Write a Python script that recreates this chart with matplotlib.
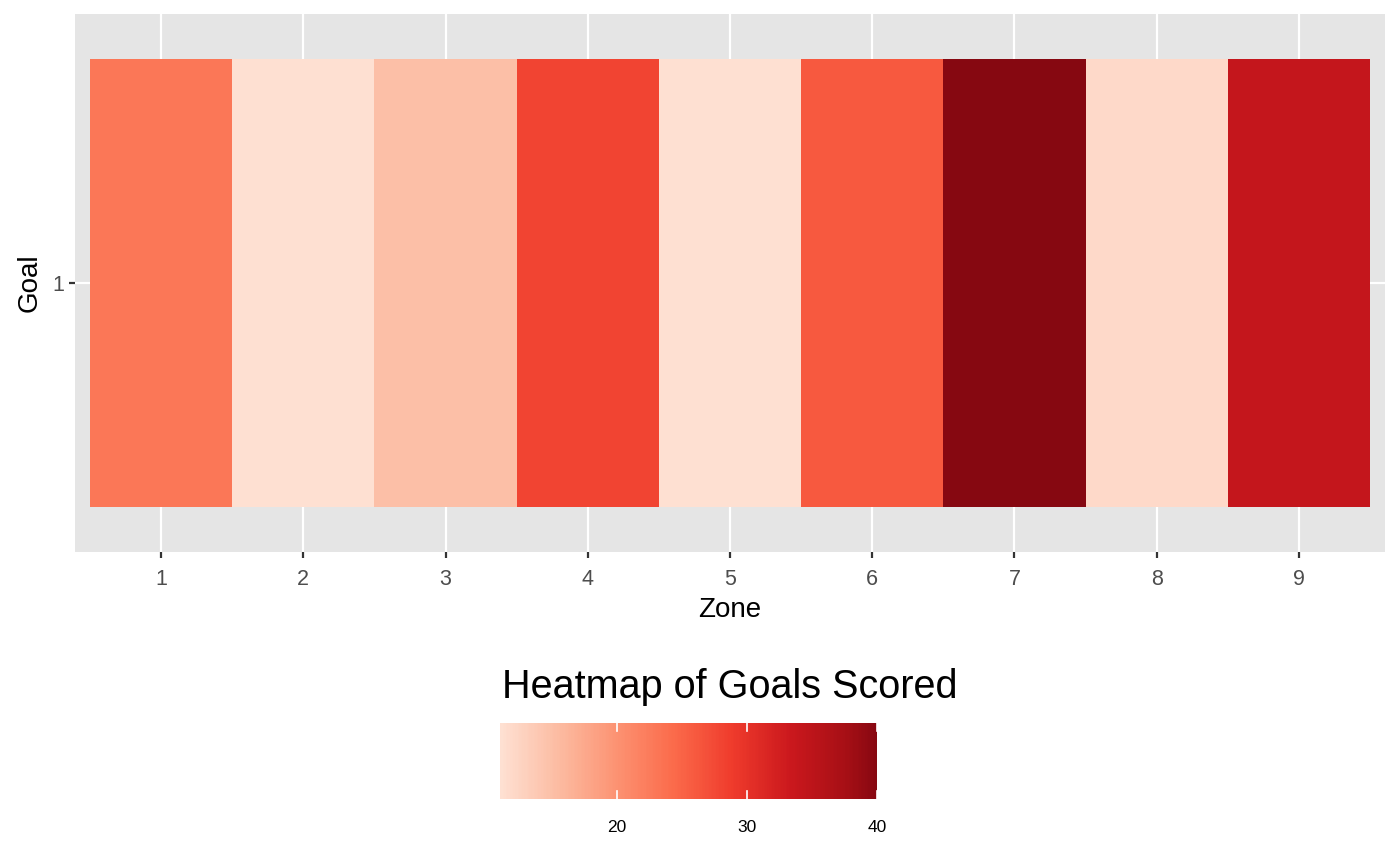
import numpy as np
import matplotlib
matplotlib.use("Agg")
import matplotlib.pyplot as plt
from matplotlib.colors import ListedColormap, Normalize
import matplotlib.cm as cm

# ---- data ----
zones = [1, 2, 3, 4, 5, 6, 7, 8, 9]
goal_rows = [1]
goals = [23, 11, 15, 28, 11, 26, 40, 12, 34]
cbar_ticks = [20, 30, 40]
vmin, vmax = 11, 40

plt.rcParams['font.family'] = ['Liberation Sans', 'DejaVu Sans']

fig = plt.figure(figsize=(14, 8.65), dpi=100)
W, H = 1400, 865

def ax_rect(x0, y0, x1, y1):
    return [x0 / W, 1 - y1 / H, (x1 - x0) / W, (y1 - y0) / H]

ax = fig.add_axes(ax_rect(75, 14, 1385, 552))
ax.set_facecolor('#E5E5E5')
ax.set_axisbelow(True)

base = plt.get_cmap('Reds')
cmap = ListedColormap(base(np.linspace(0.125, 0.935, 256)))
norm = Normalize(vmin=vmin, vmax=vmax)

data = np.array(goals, dtype=float)[np.newaxis, :]
xe = np.arange(len(zones) + 1) + 0.5
ye = np.array([goal_rows[0] - 0.5, goal_rows[0] + 0.5])
ax.pcolormesh(xe, ye, data, cmap=cmap, norm=norm, zorder=2)

ax.set_xlim(0.5 - 0.105, len(zones) + 0.5 + 0.105)
ax.set_ylim(0.4, 1.6)
ax.set_xticks(zones)
ax.set_xticklabels([str(z) for z in zones])
ax.set_yticks(goal_rows)
ax.set_yticklabels([str(g) for g in goal_rows])
ax.grid(True, color='white', linewidth=1.6, zorder=1)
for s in ax.spines.values():
    s.set_visible(False)
ax.tick_params(axis='both', colors='#333333', length=4, width=1.6,
               labelsize=15.5, labelcolor='#4D4D4D', pad=4)
ax.tick_params(axis='x', pad=8)
ax.set_xlabel('Zone', fontsize=20, color='black', labelpad=5)
ax.set_ylabel('Goal', fontsize=20, color='black', labelpad=7)

# ---- colorbar ----
cax = fig.add_axes(ax_rect(500, 723, 877, 799))
sm = cm.ScalarMappable(norm=norm, cmap=cmap)
cb = fig.colorbar(sm, cax=cax, orientation='horizontal', ticks=cbar_ticks)
cb.outline.set_visible(False)
cax.tick_params(axis='x', length=0, labelsize=12.5, labelcolor='black', pad=15)
for t in cbar_ticks:
    cax.plot([t, t], [0, 0.11], color='white', lw=1.2, transform=cax.get_xaxis_transform(), clip_on=False)
    cax.plot([t, t], [0.89, 1.0], color='white', lw=1.2, transform=cax.get_xaxis_transform(), clip_on=False)
fig.text(730 / W, 1 - 687 / H, 'Heatmap of Goals Scored', fontsize=28.5,
         ha='center', va='center', color='black')

fig.savefig('out.png', dpi=100, facecolor='white')
